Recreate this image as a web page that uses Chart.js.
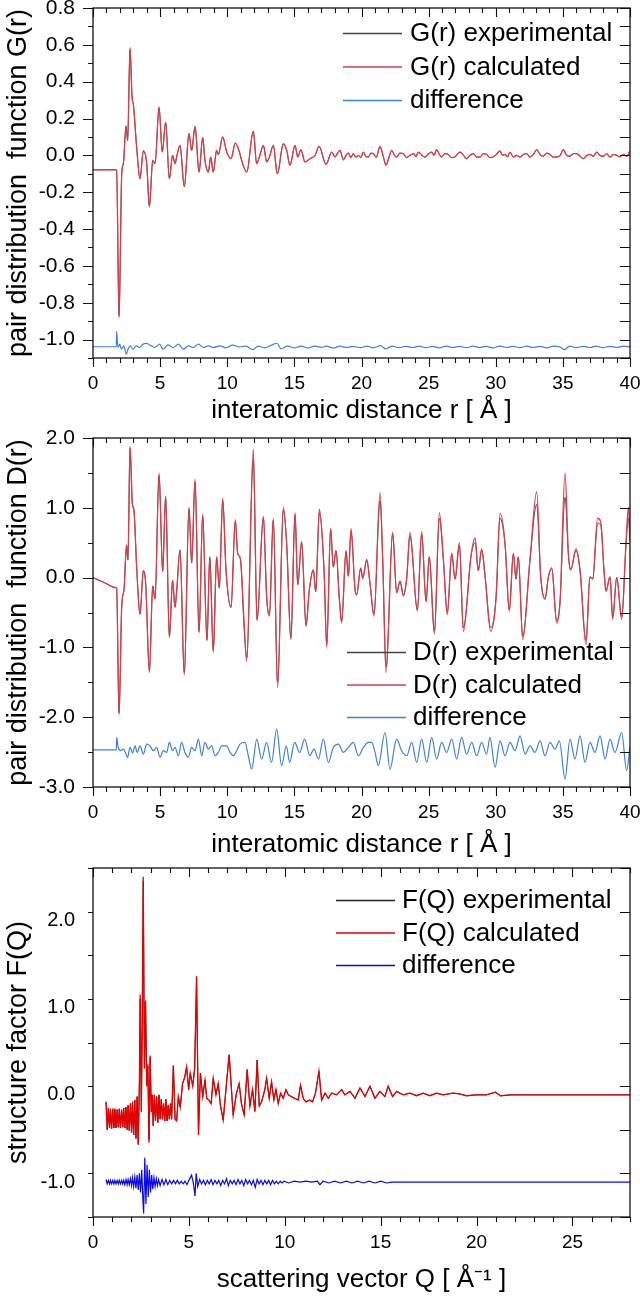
<!DOCTYPE html>
<html>
<head>
<meta charset="utf-8">
<script src="https://cdn.jsdelivr.net/npm/chart.js@4.4.1/dist/chart.umd.min.js"></script>
<style>
  html, body { margin: 0; padding: 0; background: #fff; }
  #wrap { position: relative; width: 640px; height: 1298px; }
  canvas { position: absolute; left: 0; }
</style>
</head>
<body>
<div id="wrap">
  <canvas id="gChart" width="640" height="430" style="top:0"></canvas>
  <canvas id="dChart" width="640" height="430" style="top:430px"></canvas>
  <canvas id="fChart" width="640" height="438" style="top:860px"></canvas>
</div>
<script>
// ---------- panel 1 : G(r) ----------
var rG = [
  0, 1.76, 1.94, 2.14, 2.26, 2.46, 2.58, 2.76, 2.91, 3.0,
  3.25, 3.5, 3.75, 4.0, 4.2, 4.45, 4.62, 4.92, 5.16, 5.41,
  5.69, 5.93, 6.11, 6.23, 6.48, 6.8, 7.15, 7.35, 7.6, 7.9,
  8.17, 8.34, 8.59, 8.77, 8.96, 9.21, 9.34, 9.66, 9.96, 10.28,
  10.6, 10.83, 11.15, 11.45, 11.94, 12.19, 12.39, 12.69, 12.94, 13.14,
  13.43, 13.73, 14.18, 14.43, 14.67, 15.05, 15.25, 15.49, 15.79, 16.16,
  16.54, 16.84, 17.36, 17.78, 18.03, 18.2, 18.4, 18.65, 18.85, 19.02,
  19.2, 19.39, 19.58, 19.76, 19.95, 20.14, 20.32, 20.51, 20.7, 20.88,
  21.1, 21.38, 21.6, 21.83, 22.05, 22.25, 22.45, 22.62, 22.85, 23.12,
  23.35, 23.61, 23.9, 24.05, 24.23, 24.5, 24.73, 24.98, 25.23, 25.4,
  25.6, 25.8, 25.97, 26.2, 26.47, 26.7, 26.96, 27.15, 27.34, 27.6,
  27.83, 28.08, 28.33, 28.58, 28.83, 29.08, 29.32, 29.57, 29.82, 30.07,
  30.32, 30.5, 30.69, 30.88, 31.06, 31.3, 31.56, 31.8, 32.05, 32.3,
  32.55, 32.8, 33.05, 33.3, 33.54, 33.8, 34.04, 34.3, 34.54, 34.8,
  35.03, 35.28, 35.53, 35.78, 36.03, 36.28, 36.52, 36.78, 37.02, 37.27,
  37.52, 37.76, 38.01, 38.26, 38.51, 38.76, 39.01, 39.25, 39.5, 39.75,
  40
];
var gCalc = [
  -0.078, -0.078, -0.88, -0.10, -0.045, 0.154, 0.087, 0.586, 0.317, 0.28,
  0.045, -0.127, 0.024, -0.045, -0.28, -0.027, -0.045, 0.263, 0.018, 0.181,
  -0.127, 0.0, -0.045, -0.009, 0.054, -0.17, 0.118, 0.027, 0.158, -0.091,
  0.096, -0.027, -0.091, -0.009, -0.091, 0.027, 0.005, 0.1, 0.018, -0.018,
  0.067, 0.036, -0.045, -0.091, 0.132, -0.045, -0.009, 0.054, -0.036, -0.009,
  0.054, -0.1, 0.063, 0.027, -0.054, 0.054, -0.009, 0.031, -0.036, -0.018,
  0.0, 0.049, -0.049, 0.018, -0.009, 0.01, 0.027, -0.024, 0.0, 0.013,
  -0.012, 0.009, -0.01, 0.0, -0.012, 0.018, -0.005, -0.009, 0.012, 0.009,
  -0.01, 0.049, 0.0, -0.054, -0.01, 0.027, 0.0, -0.009, 0.012, 0.009,
  -0.012, 0.0, 0.01, -0.008, 0.018, 0.0, -0.009, 0.008, 0.018, 0.0,
  0.031, 0.005, -0.009, 0.01, 0.005, -0.012, -0.009, 0.008, 0.018, 0.0,
  -0.018, 0.0, 0.009, -0.01, -0.009, 0.01, 0.005, -0.012, -0.009, 0.008,
  0.024, 0.0, 0.005, -0.008, 0.018, -0.008, 0.0, -0.01, 0.005, 0.01,
  -0.009, 0.005, 0.031, 0.005, -0.005, 0.012, 0.005, -0.01, -0.009, 0.0,
  0.031, 0.0, -0.005, 0.01, 0.009, -0.005, -0.018, 0.0, 0.005, -0.005,
  0.018, 0.0, -0.005, 0.01, -0.009, 0.005, 0.0, -0.008, 0.005, -0.005,
  0.024
];
var gExp = [
  -0.078, -0.078, -0.87, -0.10, -0.045, 0.16, 0.08, 0.575, 0.31, 0.28,
  0.045, -0.125, 0.024, -0.045, -0.275, -0.027, -0.045, 0.258, 0.018, 0.178,
  -0.125, 0.0, -0.045, -0.009, 0.054, -0.168, 0.118, 0.027, 0.155, -0.09,
  0.096, -0.027, -0.09, -0.009, -0.09, 0.027, 0.005, 0.1, 0.018, -0.018,
  0.067, 0.036, -0.045, -0.09, 0.13, -0.045, -0.009, 0.054, -0.036, -0.009,
  0.054, -0.1, 0.063, 0.027, -0.054, 0.054, -0.009, 0.031, -0.036, -0.018,
  0.0, 0.049, -0.049, 0.018, -0.009, 0.01, 0.027, -0.024, 0.0, 0.013,
  -0.012, 0.009, -0.01, 0.0, -0.012, 0.018, -0.005, -0.009, 0.012, 0.009,
  -0.01, 0.047, 0.0, -0.052, -0.01, 0.027, 0.0, -0.009, 0.012, 0.009,
  -0.012, 0.0, 0.01, -0.008, 0.018, 0.0, -0.009, 0.008, 0.018, 0.0,
  0.031, 0.005, -0.009, 0.01, 0.005, -0.012, -0.009, 0.008, 0.018, 0.0,
  -0.018, 0.0, 0.009, -0.01, -0.009, 0.01, 0.005, -0.012, -0.009, 0.008,
  0.024, 0.0, 0.005, -0.008, 0.018, -0.008, 0.0, -0.01, 0.005, 0.01,
  -0.009, 0.005, 0.031, 0.005, -0.005, 0.012, 0.005, -0.01, -0.009, 0.0,
  0.031, 0.0, -0.005, 0.01, 0.009, -0.005, -0.018, 0.0, 0.005, -0.005,
  0.018, 0.0, -0.005, 0.01, -0.009, 0.005, 0.0, -0.008, 0.005, -0.005,
  0.024
];
var rGd = [
  0, 1.74, 1.76, 1.86, 1.99, 2.11, 2.29, 2.48, 2.61, 2.79,
  2.98, 3.23, 3.48, 3.72, 3.97, 4.35, 4.59, 4.97, 5.21, 5.59,
  5.98, 6.36, 6.73, 7.1, 7.47, 7.85, 8.22, 8.6, 8.97, 9.47,
  9.9, 10.4, 10.9, 11.4, 11.9, 12.3, 12.8, 13.3, 13.7, 14.0,
  14.5, 15.0, 15.5, 16.0, 16.5, 17.0, 17.4, 17.9, 18.4, 18.9,
  19.4, 19.9, 20.4, 20.9, 21.4, 21.8, 22.3, 22.8, 23.3, 23.8,
  24.3, 24.8, 25.3, 25.8, 26.3, 26.8, 27.3, 27.8, 28.3, 28.8,
  29.3, 29.8, 30.3, 30.8, 31.3, 31.8, 32.3, 32.8, 33.3, 33.8,
  34.3, 34.8, 35.1, 35.5, 36.0, 36.5, 37.0, 37.5, 38.0, 38.5,
  39.0, 39.5, 40
];
var gDiff = [
  -1.039, -1.039, -0.956, -1.043, -1.025, -1.052, -1.034, -1.079, -1.052, -1.034,
  -1.052, -1.034, -1.043, -1.025, -1.021, -1.034, -1.043, -1.025, -1.052, -1.029,
  -1.043, -1.025, -1.052, -1.034, -1.043, -1.025, -1.043, -1.034, -1.043, -1.034,
  -1.045, -1.030, -1.040, -1.035, -1.055, -1.035, -1.045, -1.030, -1.020, -1.050,
  -1.035, -1.045, -1.035, -1.045, -1.035, -1.042, -1.036, -1.046, -1.036, -1.043,
  -1.037, -1.044, -1.036, -1.045, -1.033, -1.050, -1.036, -1.044, -1.037, -1.043,
  -1.036, -1.044, -1.037, -1.045, -1.036, -1.043, -1.037, -1.044, -1.036, -1.043,
  -1.037, -1.045, -1.035, -1.043, -1.037, -1.044, -1.036, -1.043, -1.037, -1.045,
  -1.036, -1.040, -1.055, -1.036, -1.044, -1.037, -1.043, -1.036, -1.044, -1.037,
  -1.043, -1.036, -1.040
];
var gXTicks = [0, 5, 10, 15, 20, 25, 30, 35, 40];
var gYTicks = [-1.0, -0.8, -0.6, -0.4, -0.2, 0.0, 0.2, 0.4, 0.6, 0.8];

// ---------- panel 2 : D(r) ----------
var rD = [
  0, 0.9, 1.7, 1.76, 1.94, 2.14, 2.31, 2.5, 2.6, 2.76, 2.93, 3.05,
  3.25, 3.5, 3.75, 3.92, 4.2, 4.45, 4.62, 4.92, 5.19, 5.41,
  5.69, 5.93, 6.11, 6.23, 6.48, 6.8, 7.15, 7.35, 7.6, 7.9,
  8.17, 8.49, 8.7, 8.96, 9.21, 9.41, 9.66, 9.91, 10.28, 10.6,
  10.78, 10.98, 11.25, 11.45, 11.94, 12.22, 12.69, 12.94, 13.14, 13.43,
  13.75, 14.18, 14.43, 14.74, 15.05, 15.25, 15.54, 15.87, 16.1, 16.41,
  16.59, 16.86, 17.21, 17.41, 17.7, 17.9, 18.1, 18.35, 18.52, 18.85,
  19.02, 19.22, 19.52, 19.64, 19.94, 20.09, 20.39, 20.63, 20.93, 21.38,
  21.58, 21.83, 22.32, 22.62, 22.87, 23.12, 23.37, 23.61, 24.16, 24.48,
  24.81, 25.05, 25.43, 25.8, 26.1, 26.39, 26.72, 26.97, 27.29, 27.59,
  28.16, 28.46, 28.7, 28.95, 29.2, 29.62, 30.02, 30.32, 30.69, 31.01,
  31.31, 31.51, 31.68, 32.01, 32.55, 33.05, 33.35, 33.67, 33.92, 34.17,
  34.54, 34.79, 35.16, 35.41, 35.58, 35.98, 36.28, 36.72, 37.02, 37.22,
  37.59, 37.82, 38.06, 38.21, 38.51, 38.71, 39.01, 39.38, 39.7, 39.88, 40
];
var dCalc = [
  0, -0.077, -0.145, -0.15, -1.96, -0.41, -0.17, 0.47, 0.26, 1.88, 1.07, 0.97,
  0.16, -0.53, 0.10, -0.07, -1.36, -0.12, -0.31, 1.50, 0.09, 1.17,
  -0.86, -0.04, -0.43, -0.20, 0.40, -1.40, 1.01, 0.21, 1.41, -0.79,
  0.91, -0.91, 0.30, -1.07, 0.30, -0.15, 1.14, 0.10, -0.43, 0.83,
  0.35, 0.27, -0.62, -1.20, 1.84, -0.62, 0.88, -0.30, -0.55, 0.85,
  -1.58, 1.01, 0.47, -0.89, 0.93, -0.10, 0.52, -0.70, -0.20, 0.11,
  -0.20, 0.98, 0.11, -1.00, 0.71, 0.15, 0.39, -0.31, -0.65, 0.39,
  0.02, 0.70, -0.18, -0.25, 0.14, -0.01, 0.26, -0.08, -0.55, 1.22,
  0.25, -1.36, 0.65, -0.22, -0.05, -0.26, 0.00, 0.65, -0.48, 0.66,
  -0.35, 0.30, -0.81, 0.93, 0.26, -0.53, 0.35, -0.02, 0.50, -0.77,
  0.32, 0.57, 0.10, 0.41, 0.03, -0.77, -0.30, 0.92, 0.50, -0.48,
  0.35, -0.02, 0.30, -0.89, 0.26, 1.23, 0.01, -0.31, 0.01, 0.14,
  -0.65, -0.35, 1.50, 0.35, 0.11, 0.41, 0.10, -0.96, 0.01, -0.02,
  0.85, 0.80, 0.11, -0.20, 0.01, -0.60, 0.00, -0.60, 0.50, 1.01, 0.60
];
var dExp = [
  0, -0.077, -0.145, -0.15, -1.94, -0.41, -0.17, 0.45, 0.25, 1.85, 1.05, 0.96,
  0.16, -0.52, 0.10, -0.07, -1.33, -0.12, -0.30, 1.46, 0.09, 1.14,
  -0.84, -0.04, -0.42, -0.20, 0.39, -1.36, 0.98, 0.21, 1.37, -0.77,
  0.88, -0.89, 0.29, -1.04, 0.29, -0.15, 1.10, 0.10, -0.42, 0.80,
  0.34, 0.26, -0.70, -1.15, 1.70, -0.60, 0.85, -0.29, -0.53, 0.82,
  -1.50, 0.97, 0.46, -0.86, 0.90, -0.10, 0.50, -0.68, -0.20, 0.11,
  -0.20, 0.93, 0.11, -0.95, 0.68, 0.15, 0.38, -0.30, -0.62, 0.37,
  0.02, 0.66, -0.17, -0.24, 0.13, -0.01, 0.25, -0.08, -0.52, 1.10,
  0.25, -1.28, 0.62, -0.21, -0.05, -0.25, 0.00, 0.60, -0.46, 0.62,
  -0.33, 0.29, -0.77, 0.85, 0.25, -0.50, 0.33, -0.02, 0.46, -0.72,
  0.31, 0.50, 0.10, 0.39, 0.03, -0.72, -0.29, 0.85, 0.47, -0.46,
  0.33, -0.02, 0.29, -0.84, 0.25, 1.05, 0.01, -0.30, 0.01, 0.13,
  -0.62, -0.33, 1.15, 0.33, 0.11, 0.39, 0.10, -0.90, 0.01, -0.02,
  0.78, 0.75, 0.11, -0.19, 0.01, -0.56, 0.00, -0.56, 0.45, 0.85, 0.52
];
var rDd = [
  0, 1.74, 1.76, 1.88, 2.06, 2.26, 2.46, 2.58, 2.76, 2.96,
  3.13, 3.3, 3.5, 3.75, 4.0, 4.25, 4.49, 4.74, 4.99, 5.24,
  5.49, 5.69, 5.93, 6.11, 6.36, 6.6, 6.85, 7.1, 7.35, 7.6,
  7.85, 8.1, 8.34, 8.59, 8.84, 9.09, 9.34, 9.59, 9.96, 10.21,
  10.46, 10.7, 10.95, 11.32, 11.57, 11.82, 12.2, 12.56, 12.93, 13.3,
  13.68, 14.05, 14.4, 14.65, 15.02, 15.39, 15.77, 16.14, 16.46, 16.79,
  17.16, 17.53, 17.9, 18.28, 18.65, 19.02, 19.39, 19.77, 20.14, 20.51,
  20.76, 21.01, 21.25, 21.75, 22.12, 22.62, 22.99, 23.37, 23.74, 24.11,
  24.48, 24.86, 25.23, 25.6, 25.97, 26.34, 26.72, 27.09, 27.46, 27.83,
  28.21, 28.58, 28.95, 29.32, 29.57, 29.95, 30.32, 30.69, 31.06, 31.43,
  31.81, 32.18, 32.55, 32.92, 33.3, 33.67, 34.04, 34.41, 34.74, 35.16,
  35.53, 35.9, 36.28, 36.65, 37.02, 37.39, 37.77, 38.14, 38.51, 38.88,
  39.38, 39.75, 40
];
var dDiff = [
  -2.467, -2.467, -2.29, -2.433, -2.48, -2.457, -2.529, -2.576, -2.433, -2.514,
  -2.41, -2.505, -2.41, -2.529, -2.386, -2.41, -2.48, -2.433, -2.576, -2.48,
  -2.505, -2.362, -2.48, -2.433, -2.552, -2.362, -2.505, -2.576, -2.433, -2.48,
  -2.314, -2.552, -2.362, -2.457, -2.41, -2.552, -2.505, -2.41, -2.41, -2.505,
  -2.552, -2.48, -2.386, -2.362, -2.552, -2.743, -2.314, -2.6, -2.362, -2.648,
  -2.171, -2.695, -2.41, -2.648, -2.362, -2.505, -2.314, -2.552, -2.457, -2.6,
  -2.314, -2.648, -2.433, -2.386, -2.505, -2.433, -2.362, -2.552, -2.433, -2.362,
  -2.362, -2.505, -2.695, -2.219, -2.743, -2.314, -2.48, -2.552, -2.362, -2.648,
  -2.314, -2.648, -2.29, -2.6, -2.362, -2.505, -2.314, -2.6, -2.29, -2.529,
  -2.362, -2.552, -2.362, -2.529, -2.29, -2.719, -2.338, -2.552, -2.362, -2.48,
  -2.267, -2.529, -2.41, -2.505, -2.338, -2.552, -2.362, -2.457, -2.338, -2.886,
  -2.314, -2.6, -2.267, -2.648, -2.362, -2.505, -2.267, -2.6, -2.314, -2.505,
  -2.219, -2.767, -2.41
];
var dXTicks = [0, 5, 10, 15, 20, 25, 30, 35, 40];
var dYTicks = [-3.0, -2.0, -1.0, 0.0, 1.0, 2.0];

// ---------- panel 3 : F(Q) ----------
var qF = [
  0.68, 0.74, 0.80, 0.86, 0.91, 0.97, 1.03, 1.09, 1.14, 1.20,
  1.26, 1.32, 1.37, 1.43, 1.49, 1.55, 1.60, 1.66, 1.72, 1.78,
  1.83, 1.89, 1.95, 2.01, 2.06, 2.12, 2.18, 2.24, 2.30, 2.36,
  2.42, 2.46, 2.52, 2.57, 2.62, 2.68, 2.74, 2.80, 2.86, 2.92,
  2.98, 3.04, 3.09, 3.14, 3.20, 3.26, 3.32, 3.38, 3.44, 3.50,
  3.56, 3.62, 3.68, 3.74, 3.80, 3.86, 3.92, 3.98, 4.04, 4.10,
  4.19, 4.28, 4.36, 4.45, 4.55, 4.67, 4.78, 4.88, 4.99, 5.07,
  5.20, 5.30, 5.40, 5.50, 5.60, 5.72, 5.84, 5.93, 6.05, 6.16,
  6.27, 6.41, 6.53, 6.65, 6.79, 6.96, 7.10, 7.22, 7.31, 7.48,
  7.62, 7.74, 7.88, 8.04, 8.18, 8.32, 8.44, 8.56, 8.67, 8.79,
  8.96, 9.05, 9.19, 9.31, 9.43, 9.54, 9.66, 9.78, 9.92, 10.06,
  10.18, 10.35, 10.52, 10.70, 10.82, 10.96, 11.10, 11.30, 11.45, 11.60,
  11.78, 11.92, 12.10, 12.27, 12.44, 12.70, 12.96, 13.13, 13.40, 13.66,
  13.92, 14.18, 14.44, 14.70, 14.96, 15.22, 15.39, 15.62, 15.83, 16.17,
  16.52, 16.87, 17.22, 17.56, 17.91, 18.25, 18.77, 19.12, 19.47, 19.99,
  20.50, 20.98, 21.25, 21.80, 22.50, 23.50, 24.50, 25.50, 26.50, 28.00
];
var fCalc = [
  -0.08, -0.40, -0.15, -0.38, -0.16, -0.39, -0.16, -0.38, -0.16, -0.38,
  -0.17, -0.37, -0.16, -0.38, -0.17, -0.37, -0.15, -0.38, -0.14, -0.40,
  -0.12, -0.41, -0.10, -0.43, -0.08, -0.46, -0.06, -0.50, -0.02, -0.57,
  0.15, 1.15, -0.20, 0.90, 2.50, 0.30, 1.08, 0.10, 0.35, -0.55,
  0.45, -0.20, 0.00, -0.36, 0.00, -0.30, -0.02, -0.32, 0.00, -0.28,
  -0.05, -0.28, -0.10, -0.30, -0.05, -0.30, -0.12, -0.28, -0.10, -0.28,
  0.34, -0.28, -0.30, -0.02, -0.14, 0.13, 0.20, 0.32, 0.06, 0.25,
  0.10, 0.30, 1.36, -0.46, 0.25, -0.02, 0.17, -0.04, -0.06, -0.10,
  0.19, 0.00, 0.13, -0.13, -0.29, 0.13, 0.46, 0.06, -0.23, 0.02,
  0.13, -0.10, -0.23, 0.29, -0.13, 0.06, -0.19, 0.40, -0.13, -0.08,
  0.06, 0.19, -0.04, 0.15, -0.06, 0.06, -0.10, 0.02, -0.04, 0.06,
  0.00, -0.02, -0.04, -0.06, 0.11, -0.04, -0.08, -0.06, -0.08, 0.02,
  0.27, -0.06, 0.02, -0.04, 0.02, 0.00, 0.06, 0.00, 0.04, -0.04,
  0.08, -0.02, 0.10, -0.04, 0.04, -0.02, 0.10, -0.02, 0.04, 0.00,
  0.02, -0.01, 0.02, -0.01, 0.02, 0.00, 0.02, 0.01, -0.01, 0.00,
  0.00, 0.03, -0.01, 0.00, 0.00, 0.00, 0.00, 0.00, 0.00, 0.00
];
var fExp = [
  -0.08, -0.40, -0.15, -0.38, -0.16, -0.39, -0.16, -0.38, -0.16, -0.38,
  -0.17, -0.37, -0.16, -0.38, -0.17, -0.37, -0.15, -0.38, -0.14, -0.40,
  -0.12, -0.41, -0.10, -0.43, -0.08, -0.46, -0.06, -0.50, -0.02, -0.57,
  0.12, 1.10, -0.18, 0.85, 2.45, 0.32, 1.05, 0.12, 0.33, -0.52,
  0.43, -0.19, 0.00, -0.35, 0.00, -0.30, -0.02, -0.32, 0.00, -0.28,
  -0.05, -0.28, -0.10, -0.30, -0.05, -0.30, -0.12, -0.28, -0.10, -0.28,
  0.33, -0.28, -0.30, -0.02, -0.14, 0.13, 0.20, 0.32, 0.06, 0.25,
  0.10, 0.30, 1.32, -0.44, 0.25, -0.02, 0.17, -0.04, -0.06, -0.10,
  0.19, 0.00, 0.13, -0.13, -0.29, 0.13, 0.46, 0.06, -0.23, 0.02,
  0.13, -0.10, -0.23, 0.29, -0.13, 0.06, -0.19, 0.40, -0.13, -0.08,
  0.06, 0.19, -0.04, 0.15, -0.06, 0.06, -0.10, 0.02, -0.04, 0.06,
  0.00, -0.02, -0.04, -0.06, 0.11, -0.04, -0.08, -0.06, -0.08, 0.02,
  0.27, -0.06, 0.02, -0.04, 0.02, 0.00, 0.06, 0.00, 0.04, -0.04,
  0.08, -0.02, 0.10, -0.04, 0.04, -0.02, 0.10, -0.02, 0.04, 0.00,
  0.02, -0.01, 0.02, -0.01, 0.02, 0.00, 0.02, 0.01, -0.01, 0.00,
  0.00, 0.03, -0.01, 0.00, 0.00, 0.00, 0.00, 0.00, 0.00, 0.00
];
var qFd = [
  0.68, 0.74, 0.80, 0.86, 0.91, 0.97, 1.03, 1.09, 1.14, 1.20,
  1.26, 1.32, 1.37, 1.43, 1.49, 1.55, 1.60, 1.66, 1.72, 1.78,
  1.83, 1.89, 1.95, 2.01, 2.06, 2.12, 2.18, 2.24, 2.30, 2.36,
  2.42, 2.48, 2.54, 2.60, 2.64, 2.70, 2.76, 2.82, 2.88, 2.94,
  3.00, 3.06, 3.12, 3.18, 3.24, 3.30, 3.36, 3.42, 3.50, 3.60,
  3.70, 3.80, 3.90, 4.00, 4.10, 4.20, 4.30, 4.40, 4.50, 4.60,
  4.70, 4.80, 4.90, 5.00, 5.14, 5.24, 5.32, 5.38, 5.46, 5.56,
  5.66, 5.76, 5.86, 5.96, 6.06, 6.16, 6.26, 6.36, 6.46, 6.56,
  6.66, 6.76, 6.86, 6.96, 7.06, 7.16, 7.26, 7.36, 7.46, 7.56,
  7.66, 7.76, 7.86, 7.96, 8.06, 8.16, 8.26, 8.36, 8.46, 8.56,
  8.66, 8.76, 8.86, 8.96, 9.06, 9.16, 9.26, 9.36, 9.46, 9.56,
  9.66, 9.76, 9.86, 9.96, 10.2, 10.5, 10.8, 11.1, 11.4, 11.7,
  11.83, 12.0, 12.3, 12.6, 12.9, 13.2, 13.5, 13.8, 14.1, 14.4,
  14.7, 15.0, 15.3, 15.6, 16.0, 17.0, 18.0, 20.0, 24.0, 28.0
];
var fDiff = [
  -0.97, -1.02, -0.98, -1.02, -0.98, -1.02, -0.98, -1.02, -0.98, -1.02,
  -0.98, -1.02, -0.98, -1.02, -0.98, -1.02, -0.98, -1.03, -0.97, -1.03,
  -0.97, -1.03, -0.96, -1.04, -0.95, -1.05, -0.94, -1.07, -0.92, -1.09,
  -0.90, -1.12, -0.86, -1.20, -1.36, -0.72, -1.25, -0.80, -1.17, -0.86,
  -1.12, -0.92, -1.08, -0.95, -1.05, -0.96, -1.04, -0.97, -1.04, -0.97,
  -1.03, -0.97, -1.03, -0.98, -1.02, -0.98, -1.02, -0.98, -1.02, -0.99,
  -1.02, -0.99, -1.03, -0.98, -0.92, -1.02, -1.16, -0.90, -1.05, -0.97,
  -1.02, -0.98, -1.03, -0.98, -1.02, -0.97, -1.03, -0.98, -1.02, -0.98,
  -1.04, -0.98, -1.02, -0.96, -1.04, -0.98, -1.02, -0.98, -1.03, -0.97,
  -1.02, -0.98, -1.04, -0.97, -1.02, -0.98, -1.03, -0.98, -1.06, -0.97,
  -1.02, -0.98, -1.03, -0.98, -1.02, -0.98, -1.03, -0.98, -1.02, -0.99,
  -1.02, -0.99, -1.01, -0.99, -1.01, -0.99, -1.00, -0.99, -1.00, -0.99,
  -1.03, -0.99, -1.01, -0.99, -1.01, -0.99, -1.01, -0.99, -1.01, -0.99,
  -1.01, -0.99, -1.01, -1.00, -1.00, -1.00, -1.00, -1.00, -1.00, -1.00
];
var fXTicks = [0, 5, 10, 15, 20, 25];
var fYTicks = [-1.0, 0.0, 1.0, 2.0];

// ---------- shared helpers ----------
var FONT = '"Liberation Sans", Arial, Helvetica, sans-serif';

function pts(xs, ys) {
  return xs.map(function (x, i) { return { x: x, y: ys[i] }; });
}

// frame box + tick marks (outward on left/bottom, inward on top/right), placed with the chart's scales
var frameTicks = {
  id: 'frameTicks',
  afterDraw: function (chart, args, o) {
    var ctx = chart.ctx, a = chart.chartArea;
    var xs = chart.scales.x, ys = chart.scales.y;
    ctx.save();
    ctx.strokeStyle = '#111';
    ctx.lineWidth = 1.3;
    ctx.strokeRect(a.left, a.top, a.right - a.left, a.bottom - a.top);
    ctx.lineWidth = 1.1;
    ctx.beginPath();
    var n, v, p, major;
    for (n = 0; ; n++) {
      v = xs.min + n * o.xMinor;
      if (v > xs.max + 1e-9) break;
      p = Math.round(xs.getPixelForValue(v)) + 0.5;
      major = Math.abs(v / o.xMajor - Math.round(v / o.xMajor)) < 1e-6;
      var lx = major ? 9 : 5;
      ctx.moveTo(p, a.bottom); ctx.lineTo(p, a.bottom + lx);
      ctx.moveTo(p, a.top); ctx.lineTo(p, a.top + lx);
    }
    for (n = 0; ; n++) {
      v = ys.min + n * o.yMinor;
      if (v > ys.max + 1e-9) break;
      p = Math.round(ys.getPixelForValue(v)) + 0.5;
      major = Math.abs(v / o.yMajor - Math.round(v / o.yMajor)) < 1e-6;
      var ly = major ? 10 : 5;
      ctx.moveTo(a.left, p); ctx.lineTo(a.left - ly, p);
      ctx.moveTo(a.right, p); ctx.lineTo(a.right - 10, p);
    }
    ctx.stroke();
    ctx.restore();
  }
};

// line-sample legend inside the plot, like the original figure
var lineLegend = {
  id: 'lineLegend',
  afterDraw: function (chart, args, o) {
    var ctx = chart.ctx;
    ctx.save();
    ctx.font = '26px ' + FONT;
    ctx.textBaseline = 'middle';
    ctx.textAlign = 'left';
    chart.data.datasets.forEach(function (ds, i) {
      var yy = o.top + i * o.gap;
      ctx.strokeStyle = ds.borderColor;
      ctx.lineWidth = 1.5;
      ctx.beginPath();
      ctx.moveTo(o.x0, yy + 0.5);
      ctx.lineTo(o.x1, yy + 0.5);
      ctx.stroke();
      ctx.fillStyle = '#000';
      ctx.fillText(ds.label, o.tx, yy + 1);
    });
    ctx.restore();
  }
};

function makeChart(id, c) {
  var H = document.getElementById(id).height;
  var lineMode = c.smooth ? 'monotone' : 'default';
  return new Chart(document.getElementById(id), {
    type: 'line',
    data: {
      datasets: [
        { label: c.labels[0], data: pts(c.x, c.exp), borderColor: c.colors[0], borderWidth: 0.9, order: 2 },
        { label: c.labels[1], data: pts(c.x, c.calc), borderColor: c.colors[1], borderWidth: 1.3, order: 1 },
        { label: c.labels[2], data: pts(c.xd, c.diff), borderColor: c.colors[2], borderWidth: 1.2, order: 0 }
      ]
    },
    options: {
      responsive: false,
      animation: false,
      devicePixelRatio: 1,
      layout: { padding: { top: 8, right: 10, left: 0, bottom: 0 } },
      elements: {
        point: { radius: 0 },
        line: { tension: 0, cubicInterpolationMode: lineMode }
      },
      plugins: {
        legend: { display: false },
        tooltip: { enabled: false },
        frameTicks: c.ticks,
        lineLegend: c.legend
      },
      scales: {
        x: {
          type: 'linear', min: c.xMin, max: c.xMax,
          afterBuildTicks: function (s) { s.ticks = c.xTicks.map(function (v) { return { value: v }; }); },
          afterFit: function (s) { s.height = H - c.plotBottom; s.paddingLeft = 0; s.paddingRight = 0; },
          grid: { display: false },
          border: { display: false },
          ticks: {
            color: '#000', padding: 6, maxRotation: 0, autoSkip: false,
            font: { family: FONT, size: 19 },
            callback: function (v) { return String(v); }
          },
          title: {
            display: true, text: c.xTitle, color: '#000',
            font: { family: FONT, size: 26 },
            padding: { top: 0, bottom: c.xTitlePad }
          }
        },
        y: {
          type: 'linear', min: c.yMin, max: c.yMax,
          afterBuildTicks: function (s) { s.ticks = c.yTicks.map(function (v) { return { value: v }; }); },
          afterFit: function (s) { s.width = 93; s.paddingTop = 0; s.paddingBottom = 0; },
          grid: { display: false },
          border: { display: false },
          ticks: {
            color: '#000', padding: 10, autoSkip: false,
            font: { family: FONT, size: c.yTickSize },
            callback: function (v) { return v.toFixed(1); }
          },
          title: {
            display: true, text: c.yTitle, color: '#000',
            font: { family: FONT, size: 27 },
            padding: { top: 2, bottom: 0 }
          }
        }
      }
    },
    plugins: [frameTicks, lineLegend]
  });
}

makeChart('gChart', {
  x: rG, exp: gExp, calc: gCalc, xd: rGd, diff: gDiff, smooth: true,
  labels: ['G(r) experimental', 'G(r) calculated', 'difference'],
  colors: ['#444444', '#dc3c48', '#3d82d8'],
  xMin: 0, xMax: 40, yMin: -1.1, yMax: 0.8, xTicks: gXTicks, yTicks: gYTicks, yTickSize: 21,
  plotBottom: 358, xTitlePad: 4,
  xTitle: 'interatomic distance r [ Å ]', yTitle: 'pair distribution  function G(r)',
  ticks: { xMinor: 1, xMajor: 5, yMinor: 0.1, yMajor: 0.2 },
  legend: { x0: 343, x1: 402, tx: 410, top: 33, gap: 33.5 }
});

makeChart('dChart', {
  x: rD, exp: dExp, calc: dCalc, xd: rDd, diff: dDiff, smooth: true,
  labels: ['D(r) experimental', 'D(r) calculated', 'difference'],
  colors: ['#444444', '#dc3c48', '#3d82d8'],
  xMin: 0, xMax: 40, yMin: -3.0, yMax: 2.0, xTicks: dXTicks, yTicks: dYTicks, yTickSize: 21,
  plotBottom: 357, xTitlePad: 0,
  xTitle: 'interatomic distance r [ Å ]', yTitle: 'pair distribution  function D(r)',
  ticks: { xMinor: 1, xMajor: 5, yMinor: 0.5, yMajor: 1.0 },
  legend: { x0: 347, x1: 406, tx: 413, top: 222, gap: 32.5 }
});

makeChart('fChart', {
  x: qF, exp: fExp, calc: fCalc, xd: qFd, diff: fDiff, smooth: false,
  labels: ['F(Q) experimental', 'F(Q) calculated', 'difference'],
  colors: ['#222222', '#e30000', '#0a0ae6'],
  xMin: 0, xMax: 28, yMin: -1.4, yMax: 2.6, xTicks: fXTicks, yTicks: fYTicks, yTickSize: 20,
  plotBottom: 357, xTitlePad: 3,
  xTitle: 'scattering vector Q [ Å⁻¹ ]', yTitle: 'structure factor F(Q)',
  ticks: { xMinor: 1, xMajor: 5, yMinor: 0.5, yMajor: 1.0 },
  legend: { x0: 336, x1: 395, tx: 402, top: 40, gap: 32.5 }
});
</script>
</body>
</html>
